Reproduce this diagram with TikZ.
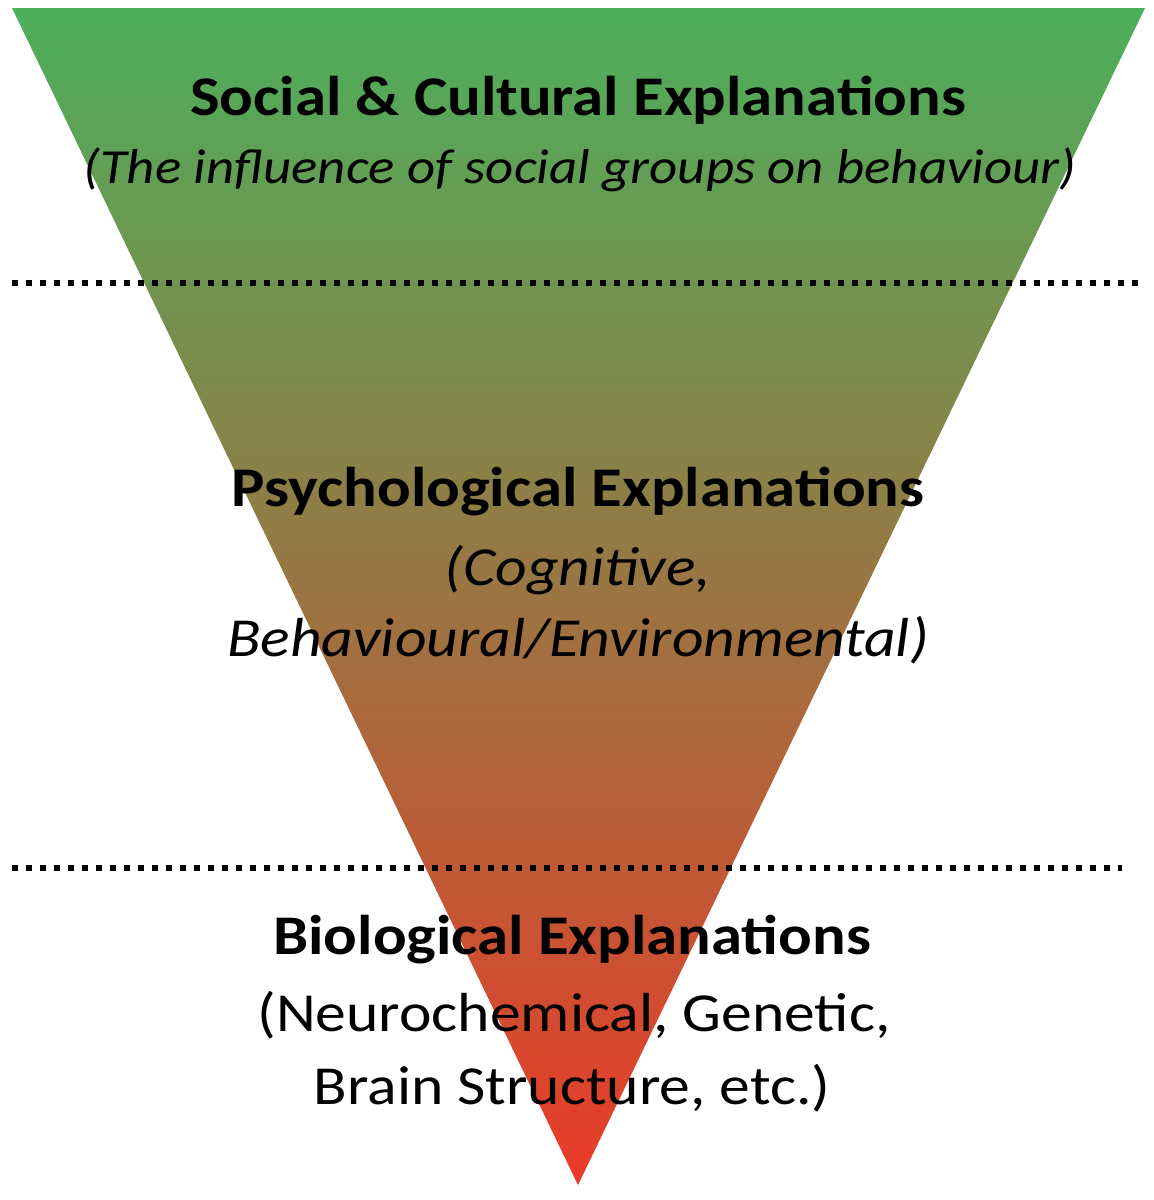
\documentclass[tikz,border=0pt]{standalone}
\usepackage{fontspec}
\setmainfont{Carlito}
\begin{document}
\begin{tikzpicture}[x=1pt,y=-1pt,
  dotline/.style={line width=5.5pt,dash pattern=on 6pt off 8pt,black},
  lbl/.style={align=center,inner sep=0pt,black,xscale=1.12}]
\definecolor{gtop}{RGB}{76,175,92}
\definecolor{gmid}{RGB}{180,140,72}
\definecolor{gbot}{RGB}{234,58,40}
\useasboundingbox (0,0) rectangle (1154,1200);
\shade[top color=gtop,middle color=gmid,bottom color=gbot] (12,8) -- (1145,8) -- (578,1185) -- cycle;
\coordinate (d1a) at (12,283); \coordinate (d1b) at (1140,283);
\coordinate (d2a) at (12,868); \coordinate (d2b) at (1122,868);
\draw[dotline] (d1a) -- (d1b);
\draw[dotline] (d2a) -- (d2b);
\node[lbl,font=\fontsize{56}{66}\selectfont\bfseries] (s1) at (578,100) {Social \& Cultural Explanations};
\node[lbl,font=\fontsize{49}{58}\selectfont\itshape] (s2) at (580,170) {(The influence of social groups on behaviour)};
\node[lbl,font=\fontsize{56}{66}\selectfont\bfseries] (p1) at (578,492) {Psychological Explanations};
\node[lbl,font=\fontsize{55}{64}\selectfont\itshape] (p2) at (578,570) {(Cognitive,};
\node[lbl,font=\fontsize{55}{64}\selectfont\itshape] (p3) at (578,640) {Behavioural/Environmental)};
\node[lbl,font=\fontsize{56}{66}\selectfont\bfseries] (b1) at (572,940) {Biological Explanations};
\node[lbl,font=\fontsize{55}{64}\selectfont] (b2) at (574,1015) {(Neurochemical, Genetic,};
\node[lbl,font=\fontsize{55}{64}\selectfont] (b3) at (572,1088) {Brain Structure, etc.)};
\end{tikzpicture}
\end{document}
